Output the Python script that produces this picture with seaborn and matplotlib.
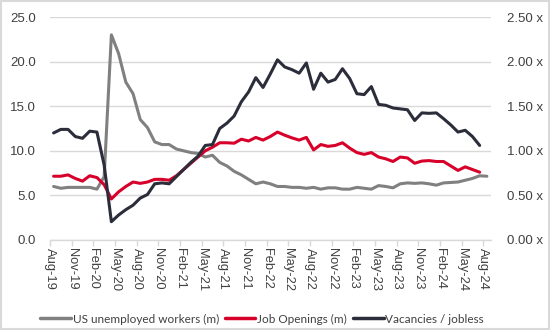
import matplotlib
matplotlib.use("Agg")
import matplotlib.pyplot as plt
import seaborn as sns
import pandas as pd
import numpy as np
from matplotlib.patches import Rectangle
from matplotlib.lines import Line2D

# ---- data ----
months = ["Aug-19","Sep-19","Oct-19","Nov-19","Dec-19","Jan-20","Feb-20","Mar-20","Apr-20","May-20",
          "Jun-20","Jul-20","Aug-20","Sep-20","Oct-20","Nov-20","Dec-20","Jan-21","Feb-21","Mar-21",
          "Apr-21","May-21","Jun-21","Jul-21","Aug-21","Sep-21","Oct-21","Nov-21","Dec-21","Jan-22",
          "Feb-22","Mar-22","Apr-22","May-22","Jun-22","Jul-22","Aug-22","Sep-22","Oct-22","Nov-22",
          "Dec-22","Jan-23","Feb-23","Mar-23","Apr-23","May-23","Jun-23","Jul-23","Aug-23","Sep-23",
          "Oct-23","Nov-23","Dec-23","Jan-24","Feb-24","Mar-24","Apr-24","May-24","Jun-24","Jul-24",
          "Aug-24"]

unemployed = [6.0, 5.8, 5.9, 5.9, 5.9, 5.9, 5.7, 7.1, 23.0, 20.9,
              17.7, 16.4, 13.5, 12.6, 11.0, 10.7, 10.7, 10.2, 10.0, 9.8,
              9.7, 9.3, 9.5, 8.7, 8.3, 7.7, 7.3, 6.8, 6.3, 6.5,
              6.3, 6.0, 6.0, 5.9, 5.9, 5.8, 5.9, 5.7, 5.85, 5.85,
              5.7, 5.7, 5.9, 5.8, 5.7, 6.1, 6.0, 5.85, 6.3, 6.4,
              6.35, 6.4, 6.3, 6.15, 6.4, 6.45, 6.5, 6.7, 6.9, 7.2,
              7.15]

job_openings = [7.15, 7.15, 7.3, 6.9, 6.6, 7.2, 7.0, 6.2, 4.6, 5.4,
                6.0, 6.5, 6.35, 6.5, 6.8, 6.8, 6.7, 7.2, 7.9, 8.6,
                9.3, 10.0, 10.4, 10.9, 10.9, 10.85, 11.3, 11.1, 11.5, 11.2,
                11.6, 12.1, 11.75, 11.45, 11.2, 11.5, 10.1, 10.7, 10.5, 10.6,
                10.9, 10.3, 9.8, 9.6, 9.8, 9.3, 9.1, 8.8, 9.3, 9.2,
                8.6, 8.85, 8.9, 8.8, 8.8, 8.3, 7.8, 8.2, 7.9, 7.6]

vacancies_per_jobless = [1.20, 1.24, 1.24, 1.16, 1.14, 1.22, 1.21, 0.84, 0.205, 0.28,
                         0.34, 0.39, 0.47, 0.51, 0.63, 0.64, 0.63, 0.71, 0.79, 0.87,
                         0.94, 1.06, 1.07, 1.25, 1.31, 1.39, 1.55, 1.66, 1.82, 1.71,
                         1.86, 2.02, 1.94, 1.91, 1.87, 1.985, 1.69, 1.87, 1.77, 1.80,
                         1.92, 1.81, 1.64, 1.63, 1.72, 1.52, 1.51, 1.48, 1.47, 1.46,
                         1.34, 1.425, 1.42, 1.425, 1.36, 1.29, 1.21, 1.23, 1.16, 1.06]

left_ticks = [0, 5, 10, 15, 20, 25]
right_ticks = [0, 0.5, 1.0, 1.5, 2.0, 2.5]

GREY = "#808080"
RED = "#D7002A"
NAVY = "#2B2D3A"
GRID = "#D9D9D9"
TXT = "#404040"

df_u = pd.DataFrame({"x": np.arange(len(unemployed)), "v": unemployed})
df_j = pd.DataFrame({"x": np.arange(len(job_openings)), "v": job_openings})
df_r = pd.DataFrame({"x": np.arange(len(vacancies_per_jobless)), "v": vacancies_per_jobless})

sns.set_theme(style="white")
plt.rcParams["font.family"] = ["Liberation Sans", "DejaVu Sans"]

fig = plt.figure(figsize=(5.5, 3.3), dpi=100)
ax = fig.add_axes([50/550, 1-240/330, 440.5/550, 223/330])
ax2 = ax.twinx()

lw = 2.2
sns.lineplot(data=df_u, x="x", y="v", ax=ax, color=GREY, lw=lw, legend=False)
sns.lineplot(data=df_j, x="x", y="v", ax=ax, color=RED, lw=lw, legend=False)
sns.lineplot(data=df_r, x="x", y="v", ax=ax2, color=NAVY, lw=lw, legend=False)

n = len(months)
ax.set_xlim(-0.5, n - 0.5)
ax.set_ylim(0, 25)
ax2.set_ylim(0, 2.5)

ax.set_yticks(left_ticks)
ax.set_yticklabels([f"{t:.1f}" for t in left_ticks])
ax2.set_yticks(right_ticks)
ax2.set_yticklabels([f"{t:.2f} x" for t in right_ticks])

tick_pos = [i - 0.5 for i in range(0, n, 3)]
ax.set_xticks(tick_pos)
ax.set_xticklabels([months[i] for i in range(0, n, 3)], rotation=270)
ax.set_xlabel("")
ax.set_ylabel("")
ax2.set_ylabel("")

for a in (ax, ax2):
    for s in a.spines.values():
        s.set_visible(False)
ax.spines["bottom"].set_visible(True)
ax.spines["bottom"].set_color(GRID)
ax.spines["bottom"].set_linewidth(1)

ax.grid(axis="y", color=GRID, lw=1)
ax.grid(axis="x", visible=False)
ax2.grid(False)
ax.set_axisbelow(True)

ax.tick_params(axis="x", direction="out", length=4, width=1, color=GRID,
               labelsize=9.3, labelcolor=TXT, pad=2, bottom=True)
ax.tick_params(axis="y", length=0, labelsize=9.5, labelcolor=TXT, pad=10)
ax2.tick_params(axis="y", length=0, labelsize=9.5, labelcolor=TXT, pad=12)

handles = [Line2D([0], [0], color=GREY, lw=2.5),
           Line2D([0], [0], color=RED, lw=2.5),
           Line2D([0], [0], color=NAVY, lw=2.5)]
labels = ["US unemployed workers (m)", "Job Openings (m)", "Vacancies / jobless"]
fig.legend(handles, labels, loc="center", bbox_to_anchor=(262/550, 1-319/330), ncol=3,
           frameon=False, handlelength=2.6, handletextpad=0.15,
           columnspacing=0.5, labelcolor=TXT, prop={"family": ["Lato", "DejaVu Sans"], "size": 8.5})

fig.patches.append(Rectangle((0.001, 0.002), 0.997, 0.996, transform=fig.transFigure,
                             fill=False, edgecolor=GRID, lw=1.5))

fig.savefig("out.png", dpi=100)
